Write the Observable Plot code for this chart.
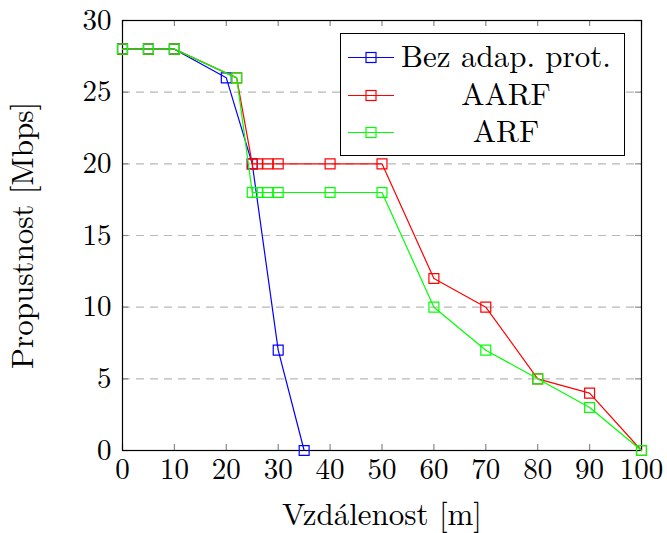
<!DOCTYPE html>
<html>
<head>
<meta charset="utf-8">
<script src="https://cdn.jsdelivr.net/npm/d3@7"></script>
<script src="https://cdn.jsdelivr.net/npm/@observablehq/plot@0.6"></script>
<style>
  html, body { margin: 0; padding: 0; background: #fff; }
  #wrap { position: relative; width: 667px; height: 533px; }
</style>
</head>
<body>
<div id="wrap"></div>
<script>
const FONT = "'Latin Modern Roman', 'Liberation Serif', serif";
const seriesNames = ["Bez adap. prot.", "AARF", "ARF"];
const seriesColors = ["#0000ff", "#ff0000", "#00ff00"];

const xBez = [0, 5, 10, 20, 25, 30, 35];
const yBez = [28, 28, 28, 26, 20, 7, 0];

const xAARF = [0, 5, 10, 22, 25, 26, 28, 30, 40, 50, 60, 70, 80, 90, 100];
const yAARF = [28, 28, 28, 26, 20, 20, 20, 20, 20, 20, 12, 10, 5, 4, 0];

const xARF = [0, 5, 10, 22, 25, 26, 28, 30, 40, 50, 60, 70, 80, 90, 100];
const yARF = [28, 28, 28, 26, 18, 18, 18, 18, 18, 18, 10, 7, 5, 3, 0];

const xTicks = [0, 10, 20, 30, 40, 50, 60, 70, 80, 90, 100];
const yTicks = [0, 5, 10, 15, 20, 25, 30];
const yGrid = [5, 10, 15, 20, 25];

const xLabel = "Vzdálenost [m]";
const yLabel = "Propustnost [Mbps]";

const series = [
  xBez.map((x, i) => ({x, y: yBez[i]})),
  xAARF.map((x, i) => ({x, y: yAARF[i]})),
  xARF.map((x, i) => ({x, y: yARF[i]}))
];

const W = 667, H = 533;
const mL = 122, mR = 26, mT = 20, mB = 83;
const innerH = H - mT - mB, innerW = W - mL - mR;

const marks = [
  Plot.gridY(yGrid, {stroke: "#b8b8b8", strokeOpacity: 1, strokeWidth: 1.2, strokeDasharray: "8,6"}),
  Plot.ruleX(xTicks, {x: d => d, insetTop: innerH - 6, stroke: "#8a8a8a", strokeWidth: 1.2}),
  Plot.ruleX(xTicks, {x: d => d, insetBottom: innerH - 6, stroke: "#8a8a8a", strokeWidth: 1.2}),
  Plot.ruleY(yTicks, {y: d => d, insetRight: innerW - 6, stroke: "#8a8a8a", strokeWidth: 1.2}),
  Plot.ruleY(yTicks, {y: d => d, insetLeft: innerW - 6, stroke: "#8a8a8a", strokeWidth: 1.2}),
  Plot.frame({stroke: "#000", strokeWidth: 1.2}),
  Plot.axisX(xTicks, {tickSize: 0, tickPadding: 8, fontSize: 29, fill: "#000", label: null}),
  Plot.axisY(yTicks, {tickSize: 0, tickPadding: 11, fontSize: 29, fill: "#000", label: null}),
  Plot.axisX({ticks: [], tickSize: 0, label: xLabel, labelAnchor: "center", labelArrow: "none", labelOffset: 74, fontSize: 31, fill: "#000"}),
  Plot.axisY({ticks: [], tickSize: 0, label: yLabel, labelAnchor: "center", labelArrow: "none", labelOffset: 112, fontSize: 31, fill: "#000"})
];
series.forEach((data, i) => {
  marks.push(Plot.line(data, {x: "x", y: "y", stroke: seriesColors[i], strokeWidth: 1.2}));
  marks.push(Plot.dot(data, {x: "x", y: "y", symbol: "square", r: 5.6, stroke: seriesColors[i], fill: "none", strokeWidth: 1.2}));
});

const chart = Plot.plot({
  width: W, height: H,
  marginLeft: mL, marginRight: mR, marginTop: mT, marginBottom: mB,
  x: {domain: [0, 100]},
  y: {domain: [0, 30]},
  style: {fontSize: "29px", color: "#000", background: "#fff", overflow: "visible"},
  marks
});
chart.style.fontFamily = FONT;
d3.select(chart).selectAll("text").attr("font-family", FONT).style("font-family", FONT);
const wrap = document.getElementById("wrap");
wrap.appendChild(chart);

// legend
const legend = d3.select(wrap).append("div")
  .style("position", "absolute").style("left", "340px").style("top", "33px")
  .style("width", "283px").style("height", "121px")
  .style("border", "1px solid #000").style("background", "#fff")
  .style("font-family", FONT).style("font-size", "31px").style("color", "#000");
seriesNames.forEach((name, i) => {
  const row = legend.append("div")
    .style("position", "absolute").style("left", "0px").style("top", (5 + i * 37.5) + "px")
    .style("width", "283px").style("height", "37px");
  const s = row.append("svg").attr("width", 46).attr("height", 37)
    .style("position", "absolute").style("left", "7px").style("top", "0px");
  s.append("line").attr("x1", 0).attr("x2", 46).attr("y1", 18.5).attr("y2", 18.5)
    .attr("stroke", seriesColors[i]).attr("stroke-width", 1.2);
  s.append("rect").attr("x", 18).attr("y", 13.5).attr("width", 10).attr("height", 10)
    .attr("fill", "none").attr("stroke", seriesColors[i]).attr("stroke-width", 1.2);
  row.append("span").text(name)
    .style("position", "absolute").style("left", "56px").style("width", "218px")
    .style("text-align", "center").style("line-height", "37px").style("top", "-3px")
    .style("white-space", "nowrap").style("font-family", FONT);
});
</script>
</body>
</html>
